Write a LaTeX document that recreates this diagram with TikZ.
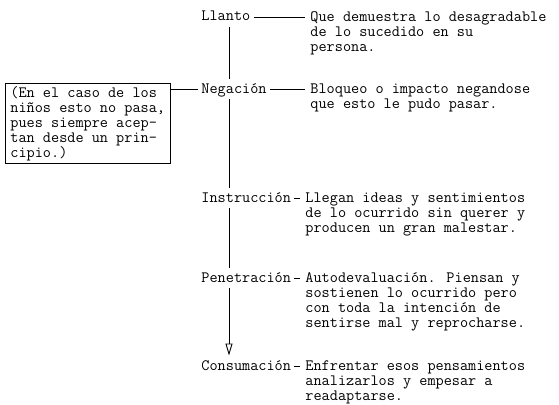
\documentclass[tikz,border=0pt]{standalone}
\usepackage{tikz}
\usetikzlibrary{arrows.meta}
\newcommand\fstrut{\rule{0pt}{12pt}}

\begin{document}
\begin{tikzpicture}[x=1pt,y=-1pt,line width=.9pt,
  txt/.style={font=\ttfamily\fontsize{15.8}{15}\selectfont,align=left},
  lbl/.style={txt,anchor=base west,inner xsep=3pt,inner ysep=3pt,text height=11pt,text depth=3pt},
  dsc/.style={txt,anchor=north west,inner xsep=5pt,inner ysep=0pt}]
\useasboundingbox (0,0) rectangle (559,404);
\coordinate (spine) at (229,0);
\node[lbl] (llanto) at (198,21) {Llanto};
\node[lbl] (negacion) at (198,93) {Negación};
\node[lbl] (instruccion) at (198,202) {Instrucción};
\node[lbl] (penetracion) at (198,282) {Penetración};
\node[lbl] (consumacion) at (198,370) {Consumación};
\node[dsc] (dllanto) at (305,9) {\fstrut Que demuestra lo desagradable\\de lo sucedido en su\\persona.};
\node[dsc] (dnegacion) at (305,81) {\fstrut Bloqueo o impacto negandose\\que esto le pudo pasar.};
\node[dsc] (dinstruccion) at (300,190) {\fstrut Llegan ideas y sentimientos\\de lo ocurrido sin querer y\\producen un gran malestar.};
\node[dsc] (dpenetracion) at (300,270) {\fstrut Autodevaluación. Piensan y\\sostienen lo ocurrido pero\\con toda la intención de\\sentirse mal y reprocharse.};
\node[dsc] (dconsumacion) at (300,358) {\fstrut Enfrentar esos pensamientos\\analizarlos y empesar a\\readaptarse.};
\node[txt,draw,anchor=north west,inner xsep=5pt,inner ysep=2pt] (nota) at (5,83) {\fstrut(En el caso de los\\niños esto no pasa,\\pues siempre acep-\\tan desde un prin-\\cipio.)};
\draw (llanto.east) -- (llanto.east -| dllanto.west);
\draw (negacion.east) -- (negacion.east -| dnegacion.west);
\draw (instruccion.east) -- (instruccion.east -| dinstruccion.west);
\draw (penetracion.east) -- (penetracion.east -| dpenetracion.west);
\draw (consumacion.east) -- (consumacion.east -| dconsumacion.west);
\draw (negacion.west -| nota.east) -- (negacion.west);
\draw (llanto.south -| spine) -- (negacion.north -| spine);
\draw (negacion.south -| spine) -- (instruccion.north -| spine);
\draw (instruccion.south -| spine) -- (penetracion.north -| spine);
\draw[-{Triangle[open,width=7pt,length=12pt]}] (penetracion.south -| spine) -- (consumacion.north -| spine);
\end{tikzpicture}
\end{document}
